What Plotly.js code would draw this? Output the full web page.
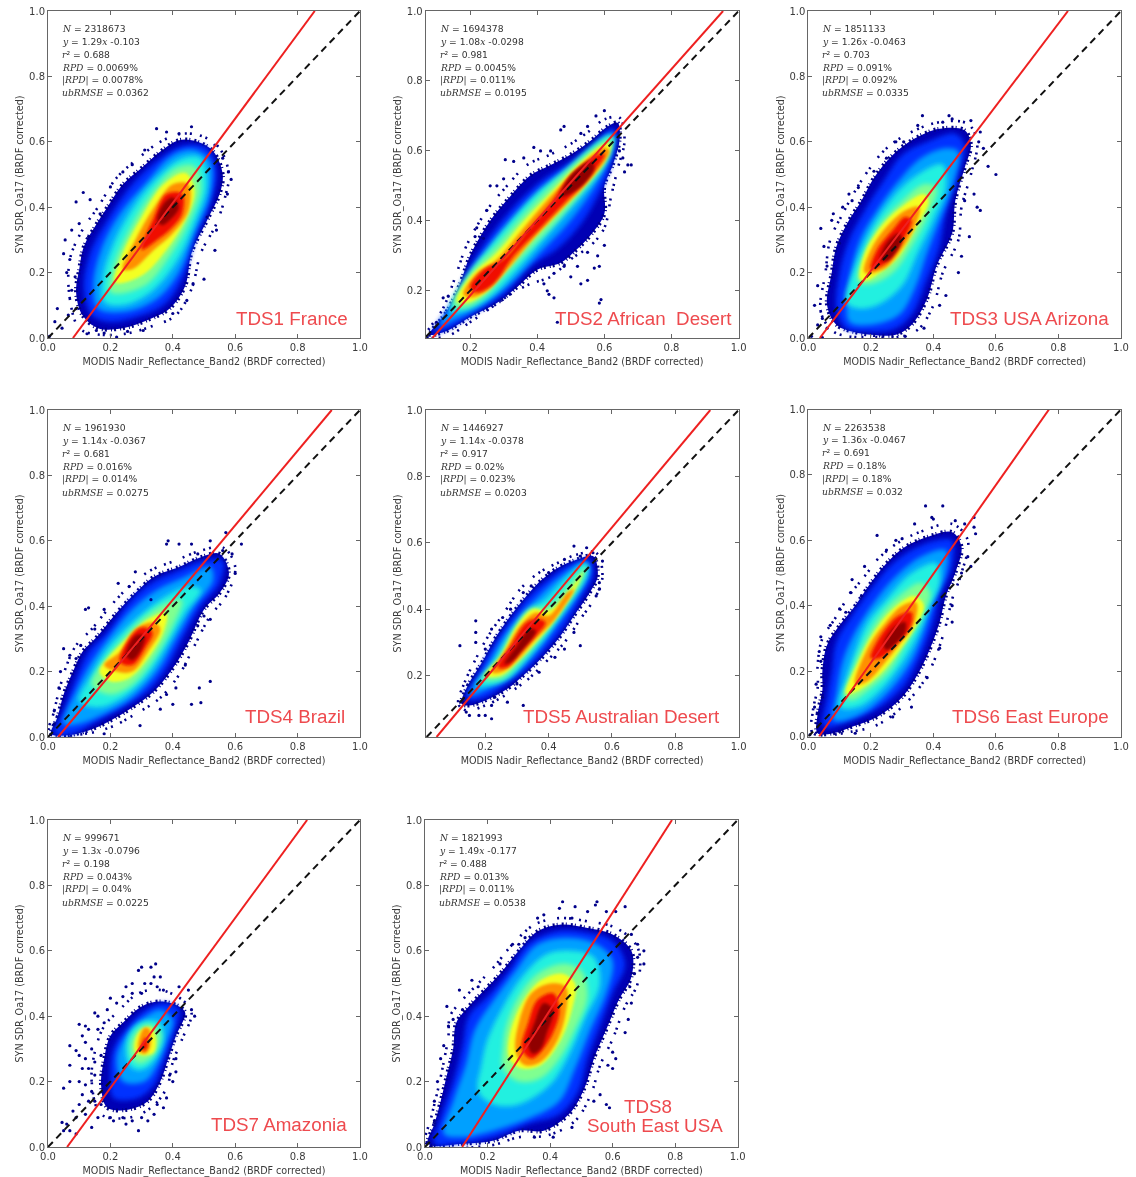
<!DOCTYPE html>
<html><head><meta charset="utf-8">
<script src="https://cdn.plot.ly/plotly-3.0.1.min.js"></script>
<style>html,body{margin:0;padding:0;background:#fff}#plot{width:1136px;height:1177px;filter:blur(0.5px)}</style>
</head><body><div id="plot"></div>
<script>
const bandColors = ['#0000b4','#0030ff','#00a0ff','#20f0e0','#80ff90','#f4ff20','#ff9000','#f01000','#900000'];
const tickLabels = ['0.0','0.2','0.4','0.6','0.8','1.0'];
const tickValues = [0,0.2,0.4,0.6,0.8,1];
const panelNames = [['TDS1 France'],['TDS2 African\u00a0\u00a0Desert'],['TDS3 USA Arizona'],['TDS4 Brazil'],['TDS5 Australian Desert'],['TDS6 East Europe'],['TDS7 Amazonia'],['TDS8','South East USA']];
const statN = ['2318673','1694378','1851133','1961930','1446927','2263538','999671','1821993'];
const statFit = ['1.29','1.08','1.26','1.14','1.14','1.36','1.3','1.49'];
const statB = ['-0.103','-0.0298','-0.0463','-0.0367','-0.0378','-0.0467','-0.0796','-0.177'];
const statR2 = ['0.688','0.981','0.703','0.681','0.917','0.691','0.198','0.488'];
const statRPD = ['0.0069%','0.0045%','0.091%','0.016%','0.02%','0.18%','0.043%','0.013%'];
const statAbsRPD = ['0.0078%','0.011%','0.092%','0.014%','0.023%','0.18%','0.04%','0.011%'];
const statUb = ['0.0362','0.0195','0.0335','0.0275','0.0203','0.032','0.0225','0.0538'];
const axisMinX = [0,0.068,0,0,0.012,0,0,0];
const axisMinY = [0,0.065,0,0,0.015,0,0,0];
const redX = [[0.08,0.855],[0.088,0.9535],[0.0367,0.8304],[0.0322,0.9094],[0.0463,0.9103],[0.0343,0.7696],[0.0612,0.8305],[0.1188,0.7899]];
const redY = [[0,1],[0.065,1],[0,1],[0,1],[0.015,1],[0,1],[0,1],[0,1]];

const tds1Fringe = [[.10,.03],[.07,.12],[.07,.24],[.11,.33],[.16,.4],[.22,.49],[.29,.55],[.36,.6],[.43,.625],[.5,.615],[.55,.58],[.58,.5],[.57,.44],[.54,.35],[.49,.26],[.46,.15],[.41,.07],[.33,.035],[.24,.012],[.15,.012]];
const tds2Fringe = [[.07,.07],[.12,.15],[.16,.25],[.19,.33],[.25,.43],[.31,.5],[.37,.56],[.44,.59],[.5,.62],[.56,.66],[.6,.69],[.645,.695],[.66,.63],[.64,.55],[.62,.47],[.6,.38],[.56,.33],[.5,.29],[.44,.24],[.38,.22],[.32,.19],[.26,.15],[.2,.11],[.13,.07]];
const tds3Fringe = [[.08,.02],[.04,.08],[.055,.2],[.07,.3],[.11,.38],[.15,.45],[.19,.51],[.25,.58],[.33,.63],[.42,.66],[.51,.655],[.54,.6],[.52,.5],[.49,.4],[.48,.3],[.43,.2],[.4,.1],[.35,.025],[.29,.003],[.2,.003],[.13,.005]];
const tds4Fringe = [[.005,.01],[.02,.08],[.035,.14],[.06,.22],[.09,.28],[.14,.33],[.2,.4],[.26,.46],[.33,.51],[.41,.54],[.49,.57],[.56,.58],[.6,.52],[.57,.43],[.52,.37],[.47,.28],[.42,.19],[.36,.12],[.28,.07],[.2,.03],[.12,.01]];
const tds5Fringe = [[.115,.115],[.135,.18],[.17,.25],[.21,.32],[.26,.39],[.31,.46],[.37,.51],[.43,.54],[.49,.565],[.55,.57],[.57,.5],[.55,.44],[.5,.37],[.45,.3],[.39,.24],[.33,.185],[.27,.145],[.2,.11],[.14,.095]];
const tds6Fringe = [[.015,.01],[.015,.08],[.03,.15],[.03,.22],[.045,.3],[.085,.36],[.13,.43],[.18,.49],[.23,.55],[.3,.6],[.37,.63],[.46,.65],[.51,.6],[.49,.5],[.46,.42],[.44,.34],[.41,.25],[.37,.17],[.31,.1],[.23,.04],[.14,.015]];
const tds7Fringe = [[.17,.1],[.14,.2],[.15,.29],[.18,.37],[.22,.41],[.29,.47],[.36,.48],[.43,.45],[.46,.41],[.43,.33],[.4,.26],[.38,.18],[.33,.12],[.26,.09]];
const tds8Fringe = [[.005,.01],[.02,.09],[.04,.17],[.06,.26],[.075,.34],[.08,.4],[.12,.45],[.17,.5],[.22,.55],[.28,.62],[.35,.68],[.43,.7],[.52,.69],[.61,.67],[.68,.61],[.68,.5],[.64,.43],[.6,.33],[.56,.25],[.53,.16],[.48,.08],[.39,.035],[.3,.03],[.21,.005]];

const tds1Bands = [
[[.11,.07],[.09,.14],[.10,.21],[.115,.28],[.15,.34],[.19,.40],[.24,.47],[.30,.52],[.36,.57],[.42,.605],[.48,.60],[.53,.57],[.56,.50],[.55,.44],[.51,.36],[.46,.26],[.44,.16],[.39,.09],[.32,.055],[.24,.03],[.16,.03]],
[[.14,.07],[.115,.15],[.135,.26],[.19,.36],[.27,.47],[.36,.55],[.44,.59],[.51,.58],[.54,.51],[.52,.41],[.47,.30],[.43,.18],[.37,.10],[.27,.06],[.19,.05]],
[[.16,.09],[.145,.16],[.17,.27],[.23,.38],[.31,.47],[.40,.56],[.47,.575],[.52,.54],[.52,.44],[.47,.32],[.42,.20],[.35,.12],[.25,.08]],
[[.18,.11],[.175,.18],[.21,.29],[.28,.41],[.36,.50],[.43,.55],[.49,.55],[.51,.47],[.47,.35],[.41,.23],[.33,.14],[.24,.10]],
[[.20,.14],[.21,.22],[.26,.33],[.33,.44],[.41,.52],[.47,.525],[.49,.46],[.45,.35],[.39,.25],[.31,.16]],
[[.215,.17],[.24,.26],[.30,.37],[.37,.47],[.44,.505],[.47,.45],[.44,.36],[.38,.27],[.30,.19]],
[[.24,.21],[.28,.30],[.34,.40],[.40,.47],[.45,.47],[.45,.39],[.40,.32],[.34,.27],[.27,.21]],
[[.30,.27],[.34,.37],[.38,.44],[.43,.44],[.43,.38],[.39,.33],[.35,.30]],
[[.35,.36],[.37,.41],[.40,.43],[.42,.40],[.39,.36],[.365,.345]]];
const tds2Bands = [
[[.08,.075],[.13,.14],[.17,.22],[.2,.30],[.26,.40],[.32,.47],[.38,.53],[.44,.56],[.50,.59],[.56,.63],[.61,.67],[.64,.68],[.645,.63],[.625,.56],[.6,.5],[.6,.42],[.56,.36],[.52,.32],[.47,.28],[.40,.26],[.34,.21],[.28,.165],[.2,.125],[.13,.085]],
[[.09,.08],[.15,.17],[.2,.27],[.27,.37],[.34,.45],[.42,.52],[.5,.57],[.57,.62],[.625,.665],[.635,.63],[.62,.56],[.58,.47],[.53,.39],[.46,.32],[.38,.27],[.3,.19],[.21,.135],[.13,.09]],
[[.11,.1],[.17,.19],[.22,.27],[.29,.36],[.37,.45],[.45,.52],[.53,.58],[.6,.64],[.63,.65],[.61,.57],[.56,.48],[.49,.39],[.41,.31],[.32,.22],[.24,.16],[.16,.12]],
[[.14,.14],[.19,.24],[.26,.33],[.33,.41],[.41,.49],[.49,.55],[.56,.61],[.62,.645],[.62,.6],[.58,.53],[.51,.45],[.43,.36],[.35,.27],[.27,.19],[.2,.15]],
[[.15,.16],[.2,.25],[.28,.33],[.36,.42],[.44,.5],[.52,.57],[.6,.63],[.625,.64],[.61,.58],[.54,.49],[.46,.4],[.38,.32],[.3,.24],[.24,.18],[.18,.15]],
[[.16,.17],[.2,.24],[.28,.31],[.36,.4],[.44,.48],[.52,.56],[.6,.62],[.62,.62],[.6,.57],[.54,.5],[.46,.42],[.38,.34],[.3,.25],[.24,.19],[.19,.165]],
[[.18,.19],[.22,.25],[.28,.29],[.36,.38],[.44,.47],[.52,.55],[.6,.61],[.615,.6],[.56,.52],[.47,.43],[.39,.35],[.31,.26],[.25,.2],[.2,.18]],
[[.2,.21],[.24,.26],[.3,.29],[.37,.37],[.44,.45],[.5,.53],[.58,.59],[.6,.59],[.55,.52],[.47,.44],[.4,.37],[.33,.3],[.27,.22],[.22,.195]],
[[.47,.47],[.5,.53],[.56,.57],[.57,.55],[.52,.49]]];
const tds3Bands = [
[[.09,.04],[.06,.1],[.075,.2],[.09,.28],[.13,.36],[.17,.42],[.21,.49],[.27,.56],[.34,.61],[.42,.64],[.5,.635],[.52,.59],[.5,.52],[.47,.42],[.46,.32],[.41,.22],[.38,.12],[.33,.04],[.28,.01],[.2,.01],[.14,.02]],
[[.12,.03],[.09,.09],[.1,.2],[.13,.3],[.18,.39],[.24,.48],[.3,.56],[.38,.6],[.47,.625],[.5,.59],[.48,.5],[.44,.38],[.42,.28],[.38,.18],[.33,.07],[.27,.025],[.18,.02]],
[[.13,.05],[.13,.15],[.14,.22],[.17,.31],[.22,.39],[.28,.47],[.36,.55],[.44,.58],[.48,.57],[.46,.46],[.42,.36],[.38,.26],[.34,.15],[.29,.07],[.2,.04]],
[[.12,.11],[.15,.22],[.2,.33],[.27,.43],[.35,.5],[.43,.53],[.44,.46],[.4,.36],[.35,.26],[.3,.16],[.22,.1],[.16,.09]],
[[.16,.17],[.18,.26],[.23,.35],[.3,.42],[.37,.47],[.41,.46],[.38,.37],[.33,.28],[.27,.2],[.2,.165]],
[[.165,.18],[.18,.26],[.24,.35],[.31,.41],[.37,.44],[.385,.42],[.34,.33],[.29,.25],[.23,.2],[.185,.175]],
[[.18,.2],[.2,.27],[.25,.34],[.31,.39],[.355,.4],[.34,.34],[.29,.26],[.24,.21]],
[[.2,.21],[.22,.27],[.27,.33],[.31,.37],[.33,.36],[.29,.28],[.25,.23]],
[[.23,.24],[.25,.29],[.29,.32],[.3,.3],[.27,.25],[.25,.235]]];
const tds4Bands = [
[[.01,.01],[.03,.06],[.05,.13],[.08,.2],[.11,.26],[.16,.31],[.22,.38],[.28,.44],[.34,.49],[.42,.52],[.49,.55],[.55,.56],[.58,.5],[.55,.44],[.5,.39],[.45,.29],[.4,.21],[.34,.14],[.27,.09],[.2,.05],[.13,.02],[.06,.005]],
[[.02,.01],[.05,.08],[.09,.18],[.13,.26],[.19,.32],[.26,.41],[.33,.47],[.42,.51],[.5,.54],[.56,.54],[.55,.47],[.49,.4],[.43,.3],[.38,.21],[.32,.14],[.24,.09],[.16,.05],[.08,.01]],
[[.05,.04],[.09,.14],[.14,.23],[.2,.31],[.27,.39],[.35,.45],[.44,.49],[.52,.52],[.53,.48],[.47,.4],[.41,.3],[.35,.2],[.27,.12],[.18,.07],[.1,.04]],
[[.1,.11],[.14,.19],[.19,.27],[.27,.35],[.36,.42],[.45,.46],[.49,.45],[.44,.38],[.38,.28],[.32,.19],[.24,.12],[.16,.09]],
[[.14,.16],[.17,.22],[.23,.29],[.3,.36],[.38,.41],[.43,.42],[.4,.34],[.34,.24],[.27,.16],[.2,.13]],
[[.165,.2],[.19,.24],[.25,.3],[.32,.36],[.38,.38],[.37,.32],[.32,.24],[.26,.18],[.2,.17]],
[[.18,.22],[.23,.26],[.28,.33],[.34,.35],[.36,.33],[.32,.26],[.27,.2],[.22,.2]],
[[.23,.23],[.26,.3],[.3,.335],[.335,.32],[.31,.27],[.27,.22]],
[[.25,.25],[.28,.31],[.31,.31],[.3,.27],[.27,.235]]];
const tds5Bands = [
[[.125,.115],[.145,.17],[.19,.24],[.23,.31],[.28,.38],[.33,.44],[.38,.49],[.43,.525],[.49,.55],[.54,.56],[.555,.5],[.53,.45],[.48,.38],[.43,.31],[.38,.255],[.32,.2],[.27,.16],[.2,.125],[.15,.11]],
[[.14,.13],[.18,.21],[.24,.31],[.29,.38],[.34,.44],[.4,.49],[.46,.53],[.53,.55],[.54,.5],[.5,.43],[.45,.35],[.39,.28],[.33,.22],[.26,.17],[.19,.13]],
[[.15,.14],[.2,.22],[.26,.32],[.31,.38],[.37,.44],[.44,.5],[.51,.54],[.53,.52],[.49,.44],[.43,.36],[.37,.28],[.3,.21],[.23,.17]],
[[.17,.17],[.22,.23],[.27,.31],[.33,.39],[.39,.43],[.45,.49],[.52,.54],[.52,.5],[.47,.42],[.41,.34],[.34,.26],[.27,.19],[.21,.17]],
[[.19,.19],[.24,.25],[.29,.34],[.34,.4],[.4,.41],[.47,.48],[.52,.53],[.5,.48],[.44,.4],[.38,.32],[.31,.24],[.25,.19]],
[[.2,.2],[.25,.26],[.3,.35],[.35,.4],[.4,.395],[.47,.46],[.51,.515],[.49,.47],[.43,.38],[.37,.31],[.3,.24],[.25,.2]],
[[.22,.21],[.26,.27],[.31,.35],[.36,.39],[.4,.38],[.46,.45],[.48,.46],[.42,.37],[.36,.31],[.3,.245],[.25,.21]],
[[.24,.225],[.28,.29],[.33,.36],[.37,.37],[.39,.36],[.36,.32],[.31,.27],[.27,.225]],
[[.26,.235],[.3,.29],[.34,.34],[.36,.335],[.32,.28],[.28,.24]]];
const tds6Bands = [
[[.03,.01],[.03,.07],[.045,.14],[.045,.2],[.06,.28],[.1,.34],[.15,.4],[.2,.47],[.25,.53],[.31,.58],[.38,.61],[.46,.625],[.49,.58],[.47,.5],[.44,.43],[.42,.35],[.39,.27],[.35,.19],[.3,.12],[.22,.06],[.14,.03],[.08,.01]],
[[.05,.03],[.06,.12],[.075,.2],[.09,.29],[.14,.37],[.2,.45],[.26,.52],[.33,.57],[.41,.6],[.46,.6],[.46,.52],[.42,.43],[.4,.35],[.36,.25],[.31,.16],[.23,.09],[.14,.05]],
[[.08,.05],[.09,.13],[.11,.23],[.15,.32],[.21,.41],[.28,.49],[.36,.55],[.44,.57],[.44,.5],[.4,.41],[.37,.32],[.33,.23],[.27,.15],[.19,.08],[.12,.05]],
[[.1,.09],[.12,.17],[.15,.26],[.19,.35],[.25,.42],[.33,.5],[.41,.53],[.42,.47],[.38,.38],[.34,.29],[.29,.21],[.23,.14],[.16,.09]],
[[.115,.12],[.14,.2],[.18,.29],[.23,.37],[.29,.43],[.36,.47],[.39,.44],[.36,.36],[.31,.28],[.26,.2],[.19,.14],[.14,.11]],
[[.12,.13],[.16,.23],[.21,.32],[.27,.39],[.34,.43],[.37,.4],[.34,.33],[.29,.26],[.23,.19],[.16,.14]],
[[.15,.16],[.19,.27],[.24,.34],[.3,.4],[.345,.41],[.34,.35],[.29,.28],[.24,.22],[.19,.17]],
[[.2,.24],[.24,.32],[.29,.37],[.33,.38],[.325,.33],[.28,.28],[.23,.24]],
[[.24,.28],[.27,.33],[.31,.35],[.31,.32],[.28,.285],[.25,.265]]];
const tds7Bands = [
[[.19,.12],[.17,.19],[.18,.27],[.2,.34],[.24,.38],[.3,.43],[.36,.445],[.42,.43],[.44,.41],[.41,.34],[.385,.27],[.36,.2],[.32,.14],[.26,.115]],
[[.21,.15],[.2,.22],[.21,.3],[.25,.36],[.3,.41],[.37,.44],[.42,.42],[.4,.34],[.37,.26],[.34,.19],[.29,.15]],
[[.24,.2],[.22,.27],[.25,.34],[.3,.39],[.36,.42],[.4,.39],[.38,.32],[.35,.25],[.31,.2]],
[[.26,.25],[.25,.31],[.27,.36],[.31,.385],[.36,.38],[.37,.33],[.35,.28],[.32,.245],[.29,.235]],
[[.27,.27],[.265,.32],[.29,.36],[.32,.375],[.36,.35],[.345,.29],[.32,.265],[.295,.255]],
[[.28,.29],[.28,.33],[.3,.36],[.33,.365],[.345,.335],[.34,.29],[.31,.28]],
[[.29,.295],[.295,.34],[.31,.365],[.325,.36],[.33,.33],[.325,.3],[.31,.285]],
[[.3,.3],[.305,.325],[.315,.335],[.32,.31],[.31,.295]]];
const tds8Bands = [
[[.01,.01],[.03,.07],[.05,.14],[.07,.22],[.09,.3],[.1,.38],[.14,.43],[.19,.48],[.24,.53],[.3,.6],[.36,.66],[.43,.68],[.52,.67],[.6,.65],[.66,.6],[.66,.52],[.62,.45],[.58,.36],[.54,.27],[.51,.18],[.46,.1],[.38,.05],[.3,.05],[.22,.02],[.12,.01]],
[[.03,.01],[.05,.09],[.09,.2],[.12,.31],[.14,.4],[.2,.46],[.27,.54],[.33,.62],[.42,.66],[.52,.655],[.6,.63],[.64,.56],[.6,.47],[.56,.37],[.52,.27],[.49,.17],[.43,.1],[.33,.07],[.22,.03],[.1,.01]],
[[.06,.04],[.09,.14],[.13,.25],[.16,.36],[.22,.45],[.29,.54],[.36,.62],[.46,.64],[.55,.62],[.6,.57],[.58,.47],[.53,.36],[.48,.24],[.43,.14],[.34,.09],[.22,.05],[.12,.03]],
[[.17,.17],[.18,.25],[.2,.33],[.25,.43],[.31,.52],[.39,.59],[.47,.6],[.54,.58],[.56,.5],[.51,.39],[.46,.28],[.4,.19],[.3,.13],[.22,.13]],
[[.25,.24],[.25,.31],[.26,.37],[.3,.46],[.36,.53],[.44,.56],[.5,.54],[.52,.46],[.48,.36],[.43,.27],[.37,.21],[.3,.2]],
[[.27,.27],[.27,.34],[.31,.44],[.37,.51],[.44,.53],[.48,.5],[.47,.42],[.43,.32],[.37,.25],[.31,.24]],
[[.29,.29],[.3,.38],[.34,.47],[.4,.5],[.45,.49],[.45,.41],[.42,.32],[.37,.26],[.32,.25]],
[[.31,.3],[.33,.38],[.36,.45],[.41,.47],[.43,.42],[.41,.35],[.37,.29],[.34,.27]],
[[.33,.31],[.35,.38],[.38,.44],[.41,.42],[.39,.35],[.37,.3],[.345,.285]]];

const tds1Dots = [[.113,.445],[.09,.416],[.135,.423],[.05,.258],[.06,.2],[.03,.09],[.022,.05],[.065,.07],[.045,.03],[.155,.023],[.22,.003],[.46,.646],[.348,.64],[.587,.485],[.535,.268],[.5,.18],[.578,.508],[.56,.55],[.42,.625],[.31,.575],[.24,.508],[.2,.462],[.167,.38],[.076,.33],[.055,.3],[.51,.37],[.465,.166],[.445,.115],[.4,.075],[.305,.023],[.125,.013],[.076,.146],[.087,.187],[.1,.35],[.13,.31],[.07,.24],[.09,.09],[.255,.02],[.18,.015],[.535,.59],[.38,.63],[.27,.53],[.575,.44],[.54,.33],[.005,.005]];
const tds2Dots = [[.6,.715],[.575,.7],[.47,.66],[.48,.67],[.53,.65],[.39,.61],[.41,.6],[.305,.575],[.33,.57],[.26,.5],[.22,.38],[.24,.35],[.215,.355],[.12,.18],[.135,.185],[.1,.11],[.59,.175],[.585,.165],[.46,.11],[.43,.2],[.45,.18],[.435,.19],[.53,.22],[.55,.23],[.57,.265],[.585,.27],[.5,.24],[.52,.27],[.48,.27],[.55,.31],[.58,.3],[.6,.33],[.68,.56],[.66,.54],[.655,.58],[.645,.6],[.67,.56],[.28,.5],[.3,.52],[.36,.58],[.25,.43],[.44,.6],[.55,.67],[.45,.25],[.42,.22]];
const tds3Dots = [[.365,.68],[.45,.68],[.46,.67],[.43,.66],[.52,.665],[.55,.63],[.35,.65],[.28,.6],[.305,.6],[.25,.55],[.21,.51],[.16,.46],[.13,.44],[.11,.4],[.08,.38],[.075,.36],[.04,.335],[.05,.28],[.03,.16],[.02,.1],[.045,.06],[.03,.04],[.06,.03],[.01,.005],[.045,.001],[.575,.525],[.6,.5],[.54,.4],[.55,.39],[.515,.31],[.49,.25],[.48,.2],[.44,.13],[.42,.1],[.37,.03],[.31,.005],[.545,.6],[.56,.58],[.53,.44],[.5,.42],[.1,.29],[.06,.22],[.14,.42]];
const tds4Dots = [[.12,.39],[.13,.395],[.18,.39],[.225,.47],[.28,.505],[.38,.59],[.385,.6],[.42,.59],[.46,.59],[.52,.6],[.57,.625],[.62,.59],[.59,.56],[.6,.5],[.05,.27],[.07,.25],[.04,.2],[.035,.15],[.52,.17],[.485,.15],[.49,.105],[.46,.1],[.4,.1],[.38,.13],[.36,.085],[.295,.035],[.18,.01],[.105,.28],[.09,.24],[.48,.34],[.52,.36],[.5,.37],[.44,.22],[.41,.15],[.33,.42],[.26,.46],[.15,.33],[.02,.08],[.02,.04],[.56,.57],[.48,.56]];
const tds5Dots = [[.48,.59],[.345,.47],[.255,.375],[.17,.365],[.17,.33],[.12,.29],[.17,.3],[.5,.29],[.22,.07],[.2,.08],[.18,.08],[.14,.09],[.15,.08],[.13,.12],[.27,.12],[.32,.11],[.22,.11],[.23,.135],[.56,.46],[.56,.48],[.55,.44],[.48,.33],[.45,.28],[.42,.255],[.37,.21],[.3,.175],[.45,.55],[.52,.585],[.54,.57],[.4,.51],[.32,.45],[.28,.4],[.22,.34],[.2,.28],[.5,.56],[.57,.545]];
const tds6Dots = [[.375,.705],[.43,.705],[.395,.67],[.4,.665],[.34,.65],[.22,.615],[.3,.605],[.18,.52],[.14,.48],[.135,.44],[.1,.39],[.07,.34],[.04,.305],[.035,.26],[.025,.16],[.02,.09],[.005,.005],[.03,.03],[.53,.67],[.535,.62],[.5,.65],[.49,.5],[.52,.52],[.51,.55],[.46,.4],[.46,.35],[.42,.27],[.38,.18],[.33,.09],[.27,.06],[.15,.01],[.1,.015],[.17,.43],[.12,.38],[.25,.57],[.28,.6],[.53,.64],[.47,.66],[.045,.12],[.04,.23]];
const tds7Dots = [[.3,.55],[.33,.55],[.345,.56],[.29,.54],[.31,.5],[.34,.52],[.35,.49],[.24,.46],[.2,.455],[.25,.49],[.27,.5],[.15,.41],[.16,.4],[.1,.375],[.12,.37],[.07,.31],[.09,.295],[.12,.32],[.1,.28],[.07,.25],[.07,.2],[.05,.18],[.1,.2],[.13,.24],[.12,.19],[.14,.17],[.13,.14],[.1,.13],[.09,.09],[.06,.07],[.05,.05],[.07,.05],[.09,.04],[.045,.075],[.14,.06],[.16,.09],[.24,.09],[.25,.07],[.29,.05],[.32,.08],[.34,.1],[.38,.15],[.39,.22],[.41,.27],[.47,.4],[.46,.42],[.45,.48],[.42,.49],[.37,.48],[.18,.38],[.14,.3],[.17,.28],[.15,.22],[.17,.13],[.2,.09],[.11,.34],[.13,.36],[.16,.36],[.19,.42],[.22,.44],[.27,.47],[.3,.47],[.33,.5],[.36,.52],[.11,.24],[.12,.27],[.15,.26],[.11,.16],[.15,.14],[.12,.1],[.08,.11],[.21,.08],[.27,.08],[.3,.09],[.35,.13],[.37,.12],[.4,.2],[.41,.23]];
const tds8Dots = [[.44,.75],[.48,.735],[.55,.75],[.545,.74],[.61,.72],[.64,.735],[.43,.73],[.38,.71],[.47,.7],[.3,.62],[.32,.64],[.24,.56],[.15,.51],[.17,.49],[.11,.48],[.07,.43],[.09,.39],[.075,.37],[.05,.27],[.04,.2],[.03,.14],[.58,.72],[.52,.72],[.7,.6],[.7,.56],[.68,.58],[.67,.53],[.655,.49],[.66,.44],[.65,.39],[.64,.35],[.6,.29],[.61,.27],[.585,.25],[.6,.24],[.56,.16],[.54,.14],[.58,.13],[.59,.12],[.47,.06],[.41,.03],[.35,.03],[.02,.003],[.68,.62],[.66,.65],[.28,.62],[.36,.7],[.12,.42],[.06,.31],[.03,.08]];

const bandSets = [tds1Bands,tds2Bands,tds3Bands,tds4Bands,tds5Bands,tds6Bands,tds7Bands,tds8Bands];
const fringeSets = [tds1Fringe,tds2Fringe,tds3Fringe,tds4Fringe,tds5Fringe,tds6Fringe,tds7Fringe,tds8Fringe];
const dotSets = [tds1Dots,tds2Dots,tds3Dots,tds4Dots,tds5Dots,tds6Dots,tds7Dots,tds8Dots];

const W=1136,H=1177;
const frameL=[48,425.7,808.3,48,425.7,808.3,48,425];
const frameR=[360,738.7,1121,360,738.7,1121,360,737.7];
const frameT=[11,11,11,410,410,409.5,820,820];
const frameB=[338,338,338,737,737,736.5,1147,1147];
const labelCX=[[291.5],[643],[1029],[295],[621.5],[1030],[279],[648,654.5]];
const labelCY=[[318],[318],[318],[716],[716],[716],[1124],[1106,1125]];

const traces=[],layout={width:W,height:H,margin:{l:0,r:0,t:0,b:0},paper_bgcolor:'#fff',plot_bgcolor:'#fff',showlegend:false,annotations:[],font:{family:'DejaVu Sans',size:10,color:'#3a3a3a'}};
const serif="font-family:'DejaVu Serif';font-style:italic";
const m=t=>`<span style="${serif}">${t}</span>`;
for(let p=0;p<8;p++){
  const n=p+1,xa='x'+(n==1?'':n),ya='y'+(n==1?'':n);
  const fr=fringeSets[p];
  traces.push({type:'scatter',mode:'lines',x:fr.map(d=>d[0]).concat(fr[0][0]),y:fr.map(d=>d[1]).concat(fr[0][1]),xaxis:xa,yaxis:ya,line:{shape:'spline',smoothing:1,color:'#00008a',width:2.6,dash:'2px,5px,2px,3px,2px,8px,2px,4px,2px,12px'},hoverinfo:'skip'});
  bandSets[p].forEach((band,i)=>{
    const xs=band.map(d=>d[0]),ys=band.map(d=>d[1]);xs.push(xs[0]);ys.push(ys[0]);
    traces.push({type:'scatter',mode:i==0?'lines':'none',x:xs,y:ys,xaxis:xa,yaxis:ya,fill:'toself',fillcolor:bandColors[i],meta:i==0?'edge':(i<5?'soft':'fine'),
      line:i==0?{shape:'spline',smoothing:1,color:'#00008a',width:4,dash:'2px,2px,1px,4px'}:{shape:'spline',smoothing:1,width:0},hoverinfo:'skip'});
  });
  traces.push({type:'scatter',mode:'markers',x:dotSets[p].map(d=>d[0]),y:dotSets[p].map(d=>d[1]),xaxis:xa,yaxis:ya,marker:{size:3.2,color:'#00008a'},hoverinfo:'skip'});
  const mn=Math.max(axisMinX[p],axisMinY[p]);
  traces.push({type:'scatter',mode:'lines',x:[mn,1],y:[mn,1],xaxis:xa,yaxis:ya,line:{color:'#111',width:2,dash:'7px,5px'},hoverinfo:'skip'});
  traces.push({type:'scatter',mode:'lines',x:redX[p],y:redY[p],xaxis:xa,yaxis:ya,line:{color:'#ee2020',width:2},hoverinfo:'skip'});
  const ax={showgrid:false,zeroline:false,showline:true,linecolor:'#666',linewidth:1,mirror:'ticks',ticks:'inside',ticklen:4,tickcolor:'#666',tickvals:tickValues,ticktext:tickLabels,tickfont:{family:'DejaVu Sans',size:10,color:'#3a3a3a'}};
  layout['xaxis'+(n==1?'':n)]=Object.assign({},ax,{domain:[frameL[p]/W,frameR[p]/W],range:[axisMinX[p],1],anchor:ya,
    title:{text:'MODIS Nadir_Reflectance_Band2 (BRDF corrected)',standoff:6,font:{family:'DejaVu Sans',size:9.6,color:'#3a3a3a'}}});
  layout['yaxis'+(n==1?'':n)]=Object.assign({},ax,{domain:[1-frameB[p]/H,1-frameT[p]/H],range:[axisMinY[p],1],anchor:xa,
    title:{text:'SYN SDR_Oa17 (BRDF corrected)',standoff:3,font:{family:'DejaVu Sans',size:9.6,color:'#3a3a3a'}}});
  const lines=[`${m('N')} = ${statN[p]}`,`${m('y')} = ${statFit[p]}${m('x')} ${statB[p]}`,`${m('r')}\u00b2 = ${statR2[p]}`,`${m('RPD')} = ${statRPD[p]}`,`${m('|RPD|')} = ${statAbsRPD[p]}`,`${m('ubRMSE')} = ${statUb[p]}`];
  lines.forEach((t,i)=>layout.annotations.push({xref:'paper',yref:'paper',x:(frameL[p]+12)/W,y:1-(frameT[p]+17.5+i*12.9)/H,xanchor:'left',yanchor:'middle',text:t,showarrow:false,font:{family:'DejaVu Sans',size:9.2,color:'#333'}}));
  panelNames[p].forEach((t,i)=>layout.annotations.push({xref:'paper',yref:'paper',x:labelCX[p][i]/W,y:1-labelCY[p][i]/H,xanchor:'center',yanchor:'middle',text:t,showarrow:false,font:{family:'Liberation Sans',size:18.8,color:'#ee4a4e'}}));
}
Plotly.newPlot('plot',traces,layout,{displayModeBar:false,staticPlot:true}).then(gd=>{
  const svg=gd.querySelector('.main-svg');
  const ns='http://www.w3.org/2000/svg';
  const defs=svg.querySelector('defs');
  [['softBlur','2.6'],['fineBlur','1.5']].forEach(([id,sd])=>{
    const f=document.createElementNS(ns,'filter');f.setAttribute('id',id);
    f.setAttribute('x','-30%');f.setAttribute('y','-30%');f.setAttribute('width','160%');f.setAttribute('height','160%');
    const b=document.createElementNS(ns,'feGaussianBlur');b.setAttribute('stdDeviation',sd);f.appendChild(b);
    defs.appendChild(f);
  });
  gd.querySelectorAll('.scatterlayer .trace').forEach(g=>{
    const d=g.__data__;
    const meta=d&&d[0]&&d[0].trace&&d[0].trace.meta;
    if(meta==='soft'||meta==='fine'){g.querySelectorAll('.js-fill').forEach(p=>p.setAttribute('filter',`url(#${meta}Blur)`));}
  });
});
</script></body></html>
